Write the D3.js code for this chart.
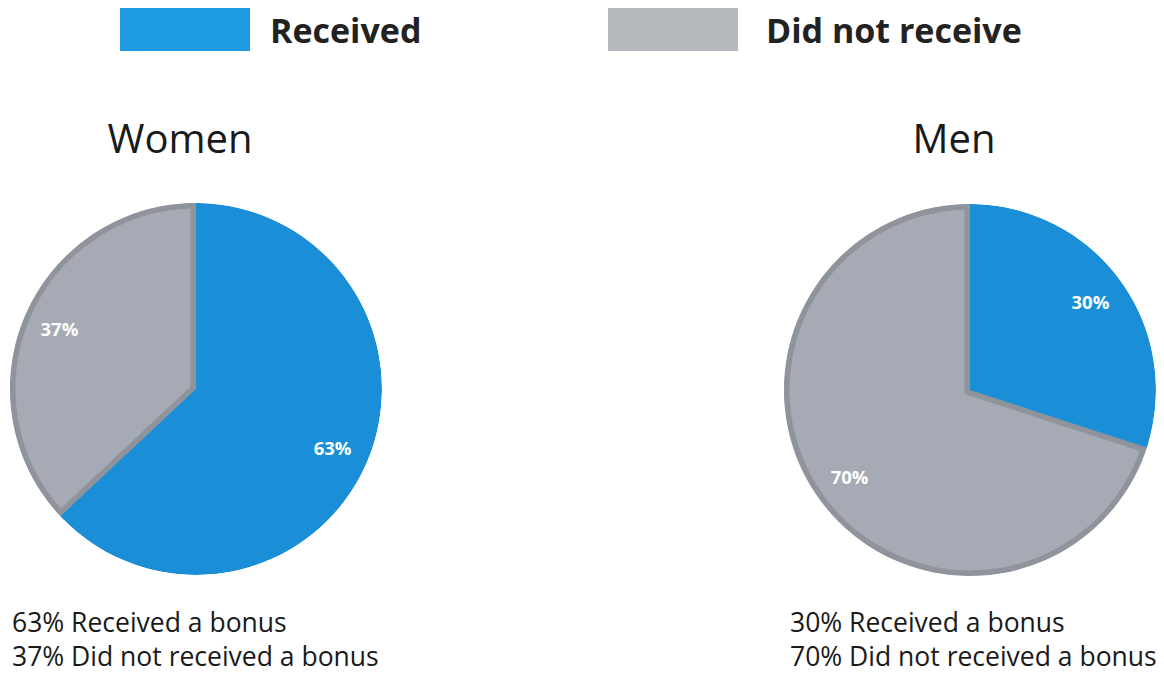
<!DOCTYPE html>
<html><head><meta charset="utf-8">
<script src="https://cdn.jsdelivr.net/npm/d3@7"></script>
<style>body{margin:0;background:#fff}svg{display:block}</style>
</head><body>
<svg id="c" width="1164" height="677"></svg>
<script>
const categories = ["Received", "Did not receive"];
const groups = ["Women", "Men"];
const womenValues = [63, 37];
const menValues = [30, 70];
const captionsWomen = ["63% Received a bonus", "37% Did not received a bonus"];
const captionsMen = ["30% Received a bonus", "70% Did not received a bonus"];

const svg = d3.select("#c");
const color = d3.scaleOrdinal().domain(categories).range(["#1a8fd7", "#a5aab4"]);
const legendColor = d3.scaleOrdinal().domain(categories).range(["#1d9ae0", "#b5b8bd"]);
const font = "'Open Sans', sans-serif";

// legend
const legendX = d3.scaleOrdinal().domain(categories).range([120, 608]);
const legendTextX = d3.scaleOrdinal().domain(categories).range([150, 158]);
categories.forEach(c => {
  const g = svg.append("g").attr("transform", `translate(${legendX(c)},8)`);
  g.append("rect").attr("width", 130).attr("height", 43).attr("fill", legendColor(c));
  g.append("text").attr("x", legendTextX(c)).attr("y", 35).attr("font-family", font)
    .attr("font-weight", 700).attr("font-size", 34).attr("fill", "#222").text(c);
});

const pie = d3.pie().sort(null).value(d => d.v);
const R = 186;
const arc = d3.arc().innerRadius(0).outerRadius(R);
const labelArc = d3.arc().innerRadius(R * 0.8).outerRadius(R * 0.8);

const panels = [
  {name: "Women", vals: womenValues, cx: 196, cy: 389, tx: 180, caps: captionsWomen, capX: 12},
  {name: "Men", vals: menValues, cx: 970, cy: 390, tx: 954, caps: captionsMen, capX: 790}
];

panels.forEach((p, i) => {
  svg.append("text").attr("x", p.tx).attr("y", 153).attr("text-anchor", "middle")
    .attr("font-family", font).attr("font-size", 40).attr("fill", "#1a1a1a").text(p.name);

  const data = pie(categories.map((c, j) => ({c, v: p.vals[j]})));
  const clipId = "clip" + i;
  svg.append("clipPath").attr("id", clipId).append("circle")
    .attr("cx", p.cx).attr("cy", p.cy).attr("r", R);
  const g = svg.append("g").attr("clip-path", `url(#${clipId})`)
    .append("g").attr("transform", `translate(${p.cx},${p.cy})`);
  const order = [data[1], data[0]];
  g.selectAll("path").data(order).join("path")
    .attr("d", arc)
    .attr("fill", d => color(d.data.c))
    .attr("stroke", d => d.data.c === "Received" ? "none" : "#8e939c")
    .attr("stroke-width", 11)
    .attr("stroke-linejoin", "miter");

  const lg = svg.append("g").attr("transform", `translate(${p.cx},${p.cy})`);
  lg.selectAll("text").data(data).join("text")
    .attr("transform", d => `translate(${labelArc.centroid(d)})`)
    .attr("text-anchor", "middle").attr("dy", "0.35em")
    .attr("font-family", font).attr("font-weight", 700).attr("font-size", 18.5)
    .attr("fill", "#fff").text(d => d.data.v + "%");

  p.caps.forEach((t, k) => {
    svg.append("text").attr("x", p.capX).attr("y", 632 + k * 34)
      .attr("font-family", font).attr("font-size", 26.5).attr("fill", "#1a1a1a").text(t);
  });
});
</script>
</body></html>
